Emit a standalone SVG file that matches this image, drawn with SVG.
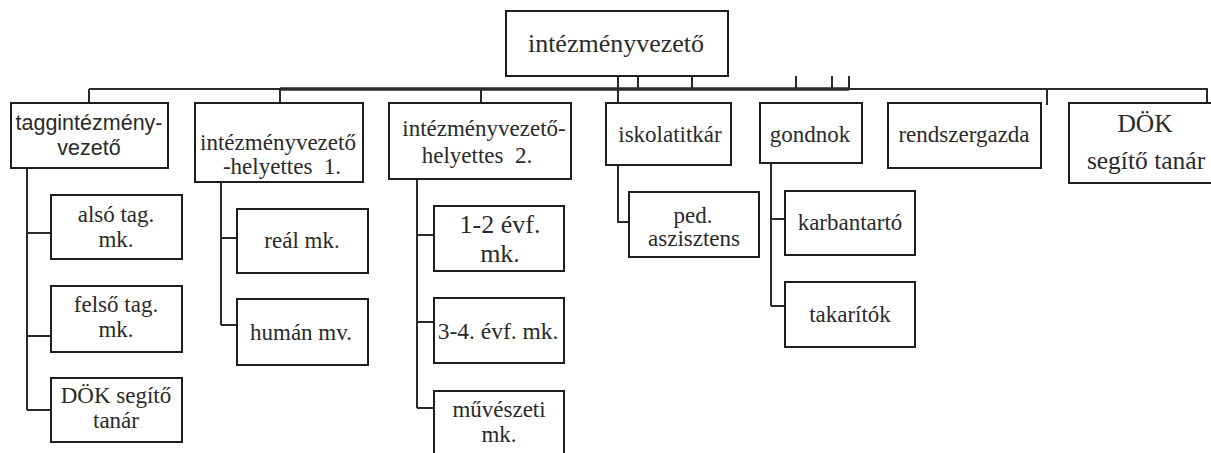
<svg xmlns="http://www.w3.org/2000/svg" width="1211" height="453" viewBox="0 0 1211 453">
<style>
rect{fill:#fff;stroke:#1e1e1e;stroke-width:2}
text{font-family:'Liberation Serif','Times New Roman',serif;font-size:23px;fill:#2a2a2a;text-anchor:middle}
text.sans{font-family:'Liberation Sans',Arial,sans-serif;font-size:21.5px}
.c{fill:none;stroke:#2a2a2a;stroke-width:2}
.thick{stroke-width:3.5}
</style>
<rect x="0" y="0" width="1211" height="453" style="stroke:none"/>
<g id="connectors">
<path class="c" d="M89 89H280M849 89H1207V103M89 89V103M280 89V103M481 89V103M618 76V103M638 76V89M692 76V89M796 76V89M832 76V89M849 76V89M1047 89V105"/>
<path class="c thick" d="M280 89H849"/>
<path class="c" d="M27 168V410M27 233H51M27 336H51M27 410H51"/>
<path class="c" d="M221 182V325M221 238H237M221 325H237"/>
<path class="c" d="M417 179V408M417 235H434M417 322H434M417 408H434"/>
<path class="c" d="M618 165V222H629"/>
<path class="c" d="M771 163V306M771 219H785M771 306H785"/>
</g>
<g id="root"><rect x="506" y="11" width="222" height="65"/><text x="616" y="52" style="font-size:26px">intézményvezető</text></g>
<g id="taggintezmeny"><rect x="11" y="103" width="157" height="65"/><text class="sans" x="89" y="130">taggintézmény-</text><text class="sans" x="89" y="155">vezető</text></g>
<g id="ivh1"><rect x="195" y="103" width="168" height="79"/><text x="278" y="150">intézményvezető</text><text x="282" y="174" xml:space="preserve">-helyettes  1.</text></g>
<g id="ivh2"><rect x="389" y="103" width="182" height="76"/><text x="484" y="136">intézményvezető-</text><text x="477" y="163" xml:space="preserve">helyettes  2.</text></g>
<g id="iskolatitkar"><rect x="606" y="103" width="125" height="62"/><text x="670" y="142">iskolatitkár</text></g>
<g id="gondnok"><rect x="760" y="103" width="102" height="60"/><text x="810" y="142">gondnok</text></g>
<g id="rendszergazda"><rect x="888" y="103" width="153" height="65"/><text x="964" y="142">rendszergazda</text></g>
<g id="dok-top"><rect x="1069" y="103" width="150" height="80"/><text x="1145" y="132" style="font-size:25.5px">DÖK</text><text x="1146" y="169" style="font-size:25.5px">segítő tanár</text></g>
<g id="also"><rect x="51" y="195" width="131" height="64"/><text x="116" y="222">alsó tag.</text><text x="116" y="247">mk.</text></g>
<g id="felso"><rect x="51" y="286" width="131" height="66"/><text x="116" y="312">felső tag.</text><text x="116" y="337">mk.</text></g>
<g id="dok-tag"><rect x="51" y="378" width="131" height="64"/><text x="116" y="403">DÖK segítő</text><text x="116" y="428">tanár</text></g>
<g id="real"><rect x="237" y="209" width="131" height="64"/><text x="302" y="248">reál mk.</text></g>
<g id="human"><rect x="237" y="299" width="131" height="66"/><text x="301" y="340" xml:space="preserve">humán mv.</text></g>
<g id="evf12"><rect x="434" y="206" width="130" height="65"/><text x="500" y="233" style="font-size:26px">1-2 évf.</text><text x="500" y="262" style="font-size:26px">mk.</text></g>
<g id="evf34"><rect x="434" y="298" width="130" height="65"/><text x="498" y="339" style="font-size:23.5px">3-4. évf. mk.</text></g>
<g id="muveszeti"><rect x="434" y="391" width="130" height="70"/><text x="499" y="417">művészeti</text><text x="499" y="442">mk.</text></g>
<g id="ped"><rect x="629" y="192" width="130" height="65"/><text x="693" y="223">ped.</text><text x="694" y="246">aszisztens</text></g>
<g id="karbantarto"><rect x="785" y="191" width="130" height="64"/><text x="850" y="230">karbantartó</text></g>
<g id="takaritok"><rect x="785" y="282" width="130" height="65"/><text x="850" y="322">takarítók</text></g>
</svg>
